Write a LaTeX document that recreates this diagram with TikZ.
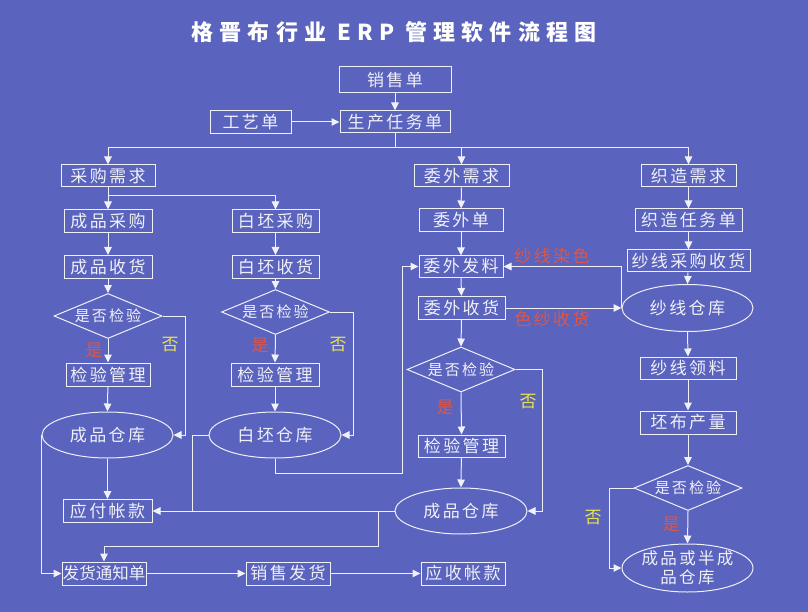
\documentclass[tikz,border=0pt]{standalone}
\usepackage{fontspec}
\usetikzlibrary{shapes.geometric,arrows.meta}
\newfontfamily\cjk[LetterSpace=14]{Noto Sans CJK SC}
\newfontfamily\cjkn{Noto Sans CJK SC}
\newfontfamily\cjktitle[LetterSpace=28]{Noto Sans CJK SC}
\definecolor{bgc}{RGB}{90,99,189}
\definecolor{lc}{RGB}{240,240,248}
\definecolor{redc}{RGB}{222,86,70}
\definecolor{yelc}{RGB}{232,228,80}
\newcommand\bxfont{\cjk\fontsize{17pt}{20pt}\selectfont}
\newcommand\bxtight{\cjkn\fontsize{16.5pt}{19pt}\selectfont}
\newcommand\dmfont{\cjk\fontsize{15pt}{17pt}\selectfont}
\newcommand\ynfont{\cjkn\fontsize{17pt}{19pt}\selectfont}
\newcommand\ttlfont{\cjktitle\bfseries\fontsize{22pt}{26pt}\selectfont}
\tikzset{
  ln/.style={draw=lc, line width=1pt},
  arr/.style={ln, -{Triangle[length=8pt,width=7.5pt]}},
  bx/.style={draw=lc, line width=1pt, rectangle, inner sep=0pt, minimum height=23pt, text=lc, font=\bxfont},
  el/.style={draw=lc, line width=1pt, ellipse, inner sep=0pt, minimum width=131pt, minimum height=46pt, text=lc, font=\bxfont},
  dm/.style={draw=lc, line width=1pt, diamond, inner sep=0pt, shape aspect=2.4, minimum width=108pt, minimum height=45pt, text=lc, font=\dmfont},
  yeslbl/.style={text=redc, font=\ynfont},
  nolbl/.style={text=yelc, font=\ynfont},
  notelbl/.style={text=redc, font=\bxfont},
}
\begin{document}
\begin{tikzpicture}[x=1pt,y=-1pt]
\fill[bgc] (0,0) rectangle (808,612);
\useasboundingbox (0,0) rectangle (808,612);
\node[font=\ttlfont, text=white] (title) at (394,32) {格晋布行业 ERP 管理软件流程图};

% top
\node[bx, minimum width=112pt, minimum height=26pt] (xs) at (395,80) {销售单};
\node[bx, minimum width=81pt] (gy) at (250.5,122) {工艺单};
\node[bx, minimum width=110pt, minimum height=22pt] (sc) at (395,122) {生产任务单};
\node[bx, minimum width=94pt, minimum height=22pt] (cgxq) at (108,176) {采购需求};
\node[bx, minimum width=95pt, minimum height=22pt] (wwxq) at (461.5,176) {委外需求};
\node[bx, minimum width=95pt, minimum height=22pt] (zzxq) at (688.5,176) {织造需求};
% column 1 & 2
\node[bx, minimum width=88pt] (cpcg) at (108,221.5) {成品采购};
\node[bx, minimum width=87pt] (bpcg) at (275.5,221.5) {白坯采购};
\node[bx, minimum width=88pt] (cpsh) at (108,267) {成品收货};
\node[bx, minimum width=87pt] (bpsh) at (275.5,267) {白坯收货};
\node[dm] (d1) at (108,316) {是否检验};
\node[dm] (d2) at (275.5,312) {是否检验};
\node[bx, minimum width=84pt] (jy1) at (108,374.5) {检验管理};
\node[bx, minimum width=88pt] (jy2) at (275,374.5) {检验管理};
\node[el] (ck1) at (107.5,435) {成品仓库};
\node[el, minimum width=132pt] (ck2) at (275,435) {白坯仓库};
\node[bx, minimum width=89pt] (yf) at (107.5,511) {应付帐款};
% column 3
\node[bx, minimum width=84pt] (wwd) at (461,220.5) {委外单};
\node[bx, minimum width=84pt, minimum height=21pt] (wwfl) at (461,266.5) {委外发料};
\node[bx, minimum width=87pt] (wwsh) at (461.5,308) {委外收货};
\node[dm] (d3) at (461,369.5) {是否检验};
\node[bx, minimum width=87pt, minimum height=22pt] (jy3) at (461.5,446) {检验管理};
\node[el, minimum width=132pt] (ck3) at (461,511) {成品仓库};
% column 4
\node[bx, minimum width=107pt] (zzrw) at (688.5,220.5) {织造任务单};
\node[bx, minimum width=123pt, minimum height=22pt] (sxcg) at (688.5,261) {纱线采购收货};
\node[el, minimum height=47pt] (sxck) at (687.5,308) {纱线仓库};
\node[bx, minimum width=96pt, minimum height=22pt] (sxll) at (688,368) {纱线领料};
\node[bx, minimum width=96pt] (pbcl) at (688,422.5) {坯布产量};
\node[dm] (d4) at (688,488) {是否检验};
\node[el, minimum height=48pt, inner xsep=-4pt, inner ysep=-6pt, align=center, font=\cjk\fontsize{16.5pt}{18.5pt}\selectfont] (ck4) at (687.5,568) {成品或半成\\品仓库};
% bottom
\node[bx, minimum width=84pt, font=\bxtight] (fh) at (104,573.5) {发货通知单};
\node[bx, minimum width=84pt] (xsfh) at (288,573.5) {销售发货};
\node[bx, minimum width=84pt] (ys) at (463,573.5) {应收帐款};

% labels
\node[yeslbl] (y1) at (94,350) {是};
\node[nolbl] (n1) at (170,345) {否};
\node[yeslbl] (y2) at (260,345) {是};
\node[nolbl] (n2) at (338,345) {否};
\node[yeslbl] (y3) at (445,407) {是};
\node[nolbl] (n3) at (528,402) {否};
\node[yeslbl] (y4) at (671,524) {是};
\node[nolbl] (n4) at (593,518) {否};
\node[notelbl] (l1) at (552,256) {纱线染色};
\node[notelbl] (l2) at (552,319) {色纱收货};

% connectors
\draw[arr] (xs) -- (sc);
\draw[arr] (gy) -- (sc);
\coordinate (jA) at (395,148);
\draw[ln] (sc.south) -- (jA);
\draw[arr] (jA) -| (cgxq.north);
\draw[arr] (jA) -| (wwxq.north);
\draw[arr] (jA) -| (zzxq.north);
\coordinate (jB) at (108,196);
\draw[ln] (cgxq.south) -- (jB);
\draw[arr] (jB) -- (cpcg.north);
\draw[arr] (jB) -| (bpcg.north);
\draw[arr] (cpcg) -- (cpsh);
\draw[arr] (bpcg) -- (bpsh);
\draw[arr] (cpsh) -- (d1.north);
\draw[arr] (bpsh) -- (d2.north);
\draw[arr] (d1.south) -- (jy1.north);
\draw[arr] (d2.south) -- (jy2.north);
\draw[arr] (d1.east) -- ++(23,0) |- (ck1.east);
\draw[arr] (d2.east) -- ++(23,0) |- (ck2.east);
\draw[arr] (jy1) -- (ck1.north);
\draw[arr] (jy2) -- (ck2.north);
\draw[arr] (ck1.south) -- (yf.north);
\draw[arr] (ck1.west) |- (fh.west);
\draw[arr] (ck2.south) |- (402,473) |- (wwfl.west);
\draw[ln] (ck2.west) -| (192,511);
\draw[arr] (ck3.west) -- (yf.east);
\draw[arr] (378,511) -- (378,546) -| (fh.north);
\draw[arr] (fh) -- (xsfh);
\draw[arr] (xsfh) -- (ys);
% column 3
\draw[arr] (wwxq) -- (wwd);
\draw[arr] (wwd) -- (wwfl);
\draw[arr] (wwfl) -- (wwsh);
\draw[arr] (wwsh.south) -- (d3.north);
\draw[arr] (d3.south) -- (jy3.north);
\draw[arr] (jy3) -- (ck3.north);
\draw[arr] (d3.east) -- ++(27,0) |- (ck3.east);
% column 4
\draw[arr] (zzxq) -- (zzrw);
\draw[arr] (zzrw) -- (sxcg);
\draw[arr] (sxcg) -- (sxck.north);
\draw[arr] (sxck.south) -- (sxll.north);
\draw[arr] (sxll) -- (pbcl);
\draw[arr] (pbcl.south) -- (d4.north);
\draw[arr] (d4.south) -- (ck4.north);
\draw[arr] (d4.west) -- ++(-24,0) |- (ck4.west);
\draw[arr] (sxck.west) |- (wwfl.east);
\draw[arr] (wwsh.east) -- (sxck.west);
\end{tikzpicture}
\end{document}
